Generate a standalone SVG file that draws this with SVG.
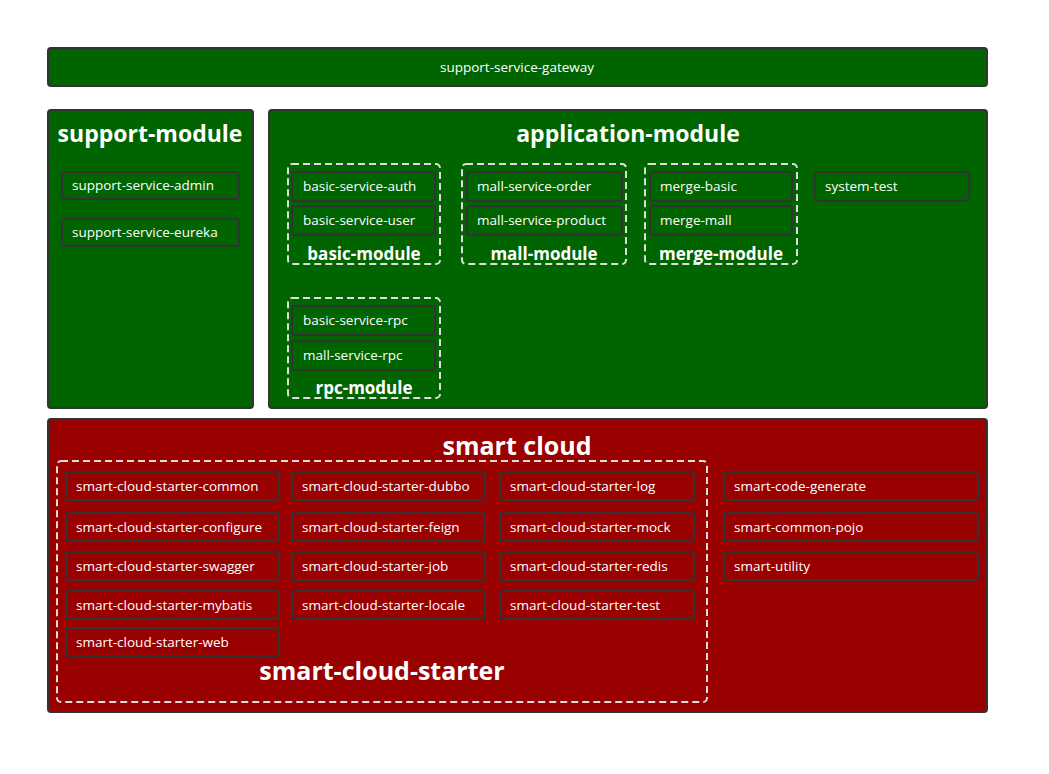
<svg xmlns="http://www.w3.org/2000/svg" width="1049" height="774" viewBox="0 0 1049 774">
<style>
.g{fill:#006400;stroke:#333;stroke-width:2}
.r{fill:#990000;stroke:#333;stroke-width:2}
.d{fill:none;stroke:#ddd;stroke-width:2;stroke-dasharray:7,4}
.t{font-family:"Open Sans","Noto Sans",sans-serif;font-size:13.5px;fill:#fff}
.b{font-family:"Open Sans","Noto Sans",sans-serif;font-size:23px;font-weight:bold;fill:#fff;text-anchor:middle}
.c{font-family:"Open Sans","Noto Sans",sans-serif;font-size:25px;font-weight:bold;fill:#fff;text-anchor:middle}
.s{font-family:"Open Sans","Noto Sans",sans-serif;font-size:17px;font-weight:bold;fill:#fff;text-anchor:middle}
</style>
<rect width="1049" height="774" fill="#fff"/>
<g id="gateway"><rect class="g" x="48" y="48" width="939" height="38" rx="3"/><text class="t" x="517" y="72" text-anchor="middle">support-service-gateway</text></g>
<g id="support-module"><rect class="g" x="48" y="110" width="205" height="298" rx="3"/><text class="b" x="150" y="142">support-module</text>
<g id="support-service-admin"><rect class="g" x="62" y="172" width="177" height="27" rx="3"/><text class="t" x="72" y="190">support-service-admin</text></g>
<g id="support-service-eureka"><rect class="g" x="62" y="219" width="177" height="27" rx="3"/><text class="t" x="72" y="237">support-service-eureka</text></g>
</g>
<g id="application-module"><rect class="g" x="269" y="110" width="718" height="298" rx="3"/><text class="b" x="628" y="142">application-module</text>
<g id="basic-module"><rect class="d" x="288" y="164" width="152" height="100" rx="4"/><text class="s" x="364" y="260">basic-module</text>
<g id="basic-service-auth"><rect class="g" x="292" y="172" width="143" height="29" rx="3"/><text class="t" x="303" y="191">basic-service-auth</text></g>
<g id="basic-service-user"><rect class="g" x="292" y="206" width="143" height="29" rx="3"/><text class="t" x="303" y="225">basic-service-user</text></g>
</g>
<g id="mall-module"><rect class="d" x="462" y="164" width="164" height="100" rx="4"/><text class="s" x="544" y="260">mall-module</text>
<g id="mall-service-order"><rect class="g" x="467" y="172" width="155" height="29" rx="3"/><text class="t" x="477" y="191">mall-service-order</text></g>
<g id="mall-service-product"><rect class="g" x="467" y="206" width="155" height="29" rx="3"/><text class="t" x="477" y="225">mall-service-product</text></g>
</g>
<g id="merge-module"><rect class="d" x="645" y="164" width="152" height="100" rx="4"/><text class="s" x="721" y="260">merge-module</text>
<g id="merge-basic"><rect class="g" x="650" y="172" width="142" height="29" rx="3"/><text class="t" x="660" y="191">merge-basic</text></g>
<g id="merge-mall"><rect class="g" x="650" y="206" width="142" height="29" rx="3"/><text class="t" x="660" y="225">merge-mall</text></g>
</g>
<g id="system-test"><rect class="g" x="815" y="172" width="154" height="29" rx="3"/><text class="t" x="825" y="191">system-test</text></g>
<g id="rpc-module"><rect class="d" x="288" y="298" width="152" height="100" rx="4"/><text class="s" x="364" y="394">rpc-module</text>
<g id="basic-service-rpc"><rect class="g" x="292" y="306" width="143" height="29" rx="3"/><text class="t" x="303" y="325">basic-service-rpc</text></g>
<g id="mall-service-rpc"><rect class="g" x="292" y="341" width="143" height="29" rx="3"/><text class="t" x="303" y="360">mall-service-rpc</text></g>
</g>
</g>
<g id="smart-cloud"><rect class="r" x="48" y="419" width="939" height="293" rx="3"/><text class="c" x="517" y="455">smart cloud</text>
<g id="smart-cloud-starter"><rect class="d" x="57" y="461" width="650" height="241" rx="4"/><text class="c" x="382" y="680">smart-cloud-starter</text>
<g id="common"><rect class="r" x="66" y="472" width="213" height="28" rx="3"/><text class="t" x="76" y="491">smart-cloud-starter-common</text></g>
<g id="configure"><rect class="r" x="66" y="513" width="213" height="28" rx="3"/><text class="t" x="76" y="532">smart-cloud-starter-configure</text></g>
<g id="swagger"><rect class="r" x="66" y="552" width="213" height="28" rx="3"/><text class="t" x="76" y="571">smart-cloud-starter-swagger</text></g>
<g id="mybatis"><rect class="r" x="66" y="591" width="213" height="28" rx="3"/><text class="t" x="76" y="610">smart-cloud-starter-mybatis</text></g>
<g id="web"><rect class="r" x="66" y="628" width="213" height="28" rx="3"/><text class="t" x="76" y="647">smart-cloud-starter-web</text></g>
<g id="dubbo"><rect class="r" x="292" y="472" width="193" height="28" rx="3"/><text class="t" x="302" y="491">smart-cloud-starter-dubbo</text></g>
<g id="feign"><rect class="r" x="292" y="513" width="193" height="28" rx="3"/><text class="t" x="302" y="532">smart-cloud-starter-feign</text></g>
<g id="job"><rect class="r" x="292" y="552" width="193" height="28" rx="3"/><text class="t" x="302" y="571">smart-cloud-starter-job</text></g>
<g id="locale"><rect class="r" x="292" y="591" width="193" height="28" rx="3"/><text class="t" x="302" y="610">smart-cloud-starter-locale</text></g>
<g id="log"><rect class="r" x="500" y="472" width="194" height="28" rx="3"/><text class="t" x="510" y="491">smart-cloud-starter-log</text></g>
<g id="mock"><rect class="r" x="500" y="513" width="194" height="28" rx="3"/><text class="t" x="510" y="532">smart-cloud-starter-mock</text></g>
<g id="redis"><rect class="r" x="500" y="552" width="194" height="28" rx="3"/><text class="t" x="510" y="571">smart-cloud-starter-redis</text></g>
<g id="test"><rect class="r" x="500" y="591" width="194" height="28" rx="3"/><text class="t" x="510" y="610">smart-cloud-starter-test</text></g>
</g>
<g id="smart-code-generate"><rect class="r" x="724" y="472" width="254" height="28" rx="3"/><text class="t" x="734" y="491">smart-code-generate</text></g>
<g id="smart-common-pojo"><rect class="r" x="724" y="513" width="254" height="28" rx="3"/><text class="t" x="734" y="532">smart-common-pojo</text></g>
<g id="smart-utility"><rect class="r" x="724" y="552" width="254" height="28" rx="3"/><text class="t" x="734" y="571">smart-utility</text></g>
</g>
<g id="connectors"></g>
</svg>
